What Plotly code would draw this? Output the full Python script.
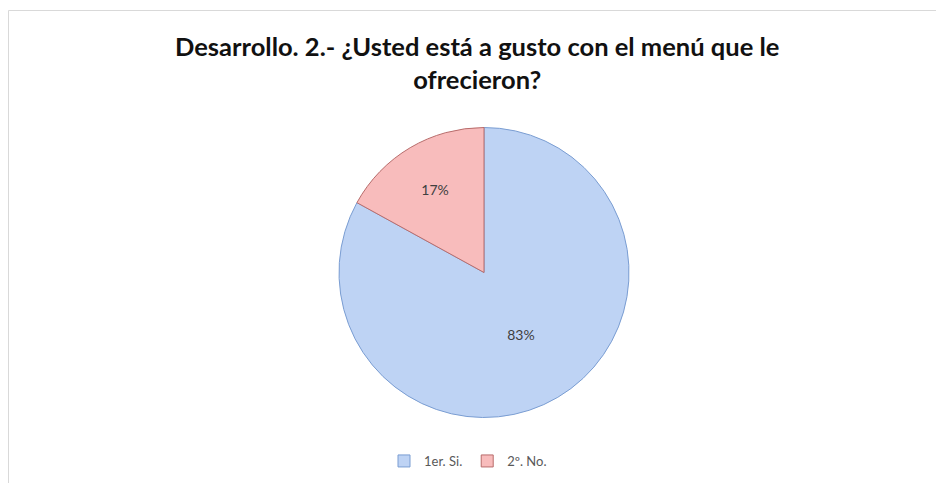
import plotly.graph_objects as go

labels = ["1er. Si.", "2º. No."]
values = [83, 17]
fill_colors = ["#bed3f4", "#f8bcbc"]
line_colors = ["#7a9dd2", "#b86c6b"]

# page body adds an 8px margin, so the figure is drawn 8px smaller and
# positions below are in figure pixels (window pixels minus 8)
W, H = 936, 475

fig = go.Figure()
fig.add_trace(
    go.Pie(
        labels=labels,
        values=values,
        sort=False,
        direction="clockwise",
        rotation=0,
        textinfo="percent",
        textposition="inside",
        insidetextorientation="horizontal",
        texttemplate="%{percent:.0%}",
        textfont={"family": "Lato", "size": 14, "color": "#404040"},
        marker={"colors": fill_colors, "line": {"color": line_colors, "width": 1}},
        domain={"x": [331 / W, 621 / W], "y": [1 - 410 / H, 1 - 119 / H]},
        hoverinfo="label+percent",
    )
)

fig.add_annotation(
    text="Desarrollo. 2.- ¿Usted está a gusto con el menú que le<br>ofrecieron?",
    x=469 / W,
    y=1 - 21 / H,
    xref="paper",
    yref="paper",
    xanchor="center",
    yanchor="top",
    showarrow=False,
    align="center",
    font={"family": "Lato", "size": 25.5, "color": "#111111", "weight": "bold"},
)

fig.add_shape(
    type="rect",
    xref="paper",
    yref="paper",
    x0=0.5 / W,
    x1=1.02,
    y0=-0.02,
    y1=1 - 2.5 / H,
    line={"color": "#d9d9d9", "width": 1},
    fillcolor="rgba(0,0,0,0)",
)

fig.update_layout(
    width=W,
    height=H,
    margin={"l": 0, "r": 0, "t": 0, "b": 0},
    paper_bgcolor="white",
    plot_bgcolor="white",
    showlegend=True,
    legend={
        "orientation": "h",
        "x": 460 / W,
        "xanchor": "center",
        "y": 1 - 453 / H,
        "yanchor": "middle",
        "font": {"family": "Lato", "size": 13, "color": "#595959"},
        "itemwidth": 30,
    },
)

fig.write_html("out.html")
